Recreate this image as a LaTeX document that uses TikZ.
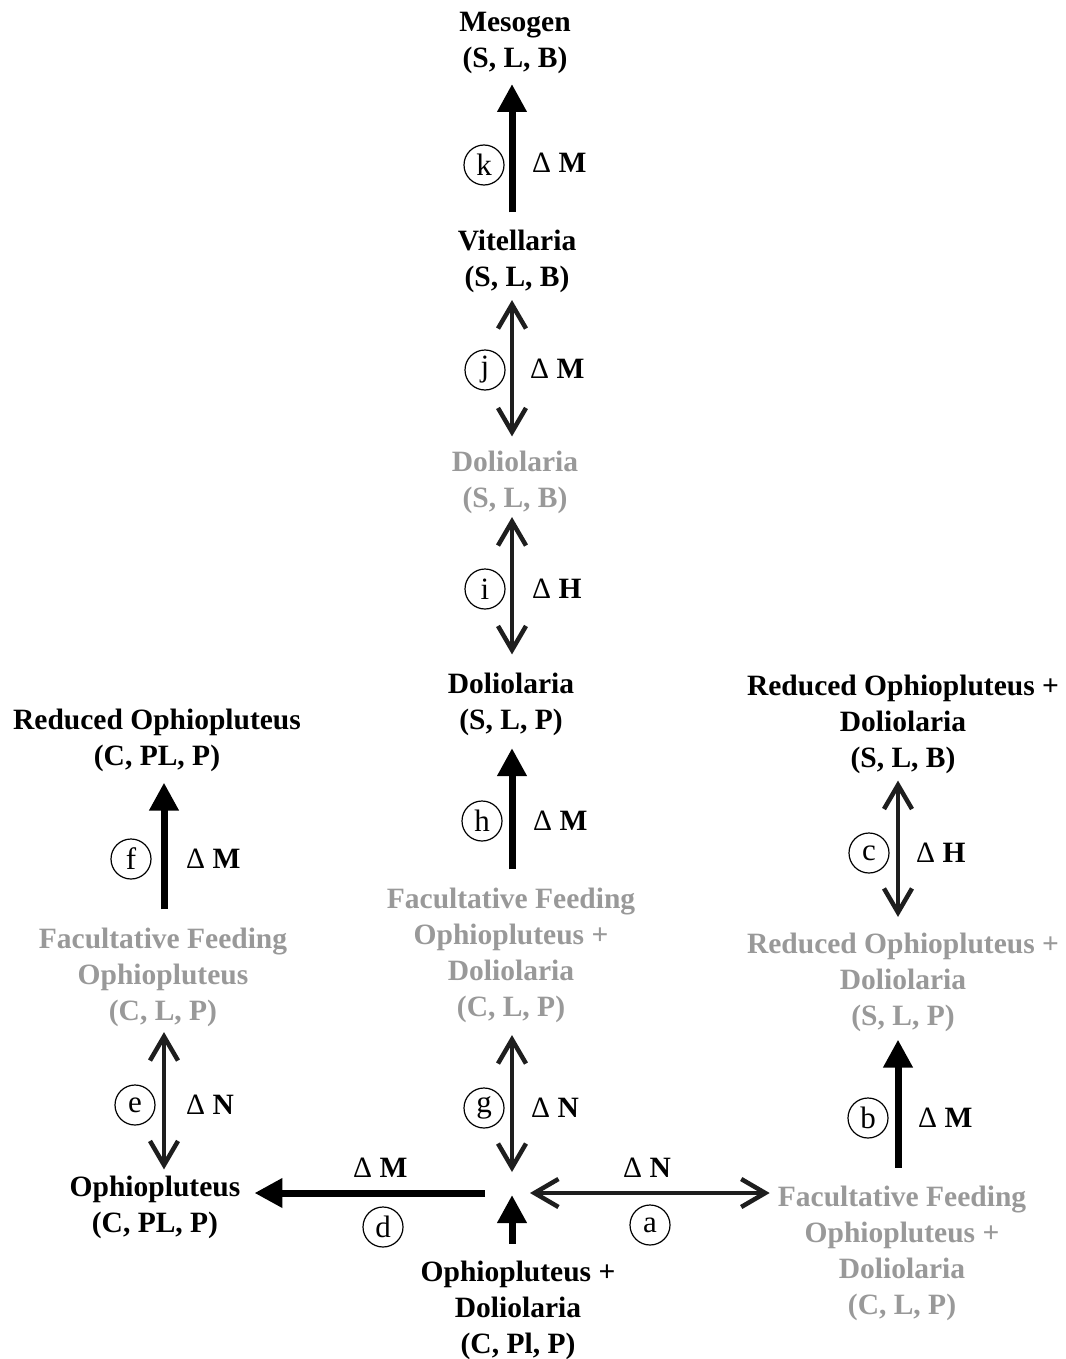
\documentclass[tikz,border=0pt]{standalone}
\usepackage{fontspec}
\setmainfont{Liberation Serif}
\usetikzlibrary{arrows.meta}
\definecolor{fadegray}{RGB}{153,153,153}
\definecolor{arrowdark}{RGB}{30,30,30}
\begin{document}
\begin{tikzpicture}[x=1pt,y=-1pt,
  lbl/.style={font=\fontsize{29.5}{36}\selectfont\bfseries, align=center, inner sep=0pt},
  dim/.style={lbl, text=fadegray},
  tag/.style={circle, draw, line width=1.2pt, minimum size=40pt, inner sep=0pt, font=\fontsize{31}{32}\selectfont},
  dlt/.style={anchor=west, inner sep=0pt, font=\fontsize{29.5}{36}\selectfont},
  oneway/.style={line width=7pt, -{Triangle[length=28pt,width=28pt]}},
  twoway/.style={line width=4.5pt, draw=arrowdark,
    {Straight Barb[length=24pt,width=28pt,line width=4.5pt]}-{Straight Barb[length=24pt,width=28pt,line width=4.5pt]}},
]
\useasboundingbox (0,0) rectangle (1065,1359);

% arrow columns
\coordinate (colL) at (164,0);
\coordinate (colC) at (512,0);
\coordinate (colR) at (898,0);
\coordinate (J) at (512,1193);

% states
\node[lbl] (meso) at (515,43) {Mesogen\\(S, L, B)};
\node[lbl] (vit) at (517,261) {Vitellaria\\(S, L, B)};
\node[dim] (dolg) at (515,482) {Doliolaria\\(S, L, B)};
\node[lbl] (dol) at (511,704) {Doliolaria\\(S, L, P)};
\node[dim] (ffc) at (511,955) {Facultative Feeding\\Ophiopluteus +\\Doliolaria\\(C, L, P)};
\node[lbl] (od) at (518,1310) {Ophiopluteus +\\Doliolaria\\(C, Pl, P)};
\node[lbl] (oph) at (155,1207) {Ophiopluteus\\(C, PL, P)};
\node[dim] (ffl) at (163,977) {Facultative Feeding\\Ophiopluteus\\(C, L, P)};
\node[lbl] (redl) at (157,740.5) {Reduced Ophiopluteus\\(C, PL, P)};
\node[dim] (ffr) at (902,1253.5) {Facultative Feeding\\Ophiopluteus +\\Doliolaria\\(C, L, P)};
\node[dim] (redrg) at (903,982.5) {Reduced Ophiopluteus +\\Doliolaria\\(S, L, P)};
\node[lbl] (redr) at (903,724.5) {Reduced Ophiopluteus +\\Doliolaria\\(S, L, B)};

% centre column
\draw[oneway, shorten <=17pt, shorten >=10pt] (vit.north -| colC) -- (meso.south -| colC);
\draw[twoway, shorten <=7.5pt, shorten >=14pt] (vit.south -| colC) -- (dolg.north -| colC);
\draw[twoway, shorten <=3.5pt, shorten >=18pt] (dolg.south -| colC) -- (dol.north -| colC);
\draw[oneway, shorten <=18pt, shorten >=12.5pt] (ffc.north -| colC) -- (dol.south -| colC);
\draw[twoway, shorten <=12.5pt, shorten >=21pt] (ffc.south -| colC) -- (J);
\draw[oneway, shorten <=16.5pt, shorten >=2pt] (od.north -| colC) -- (J);

% horizontal branches
\draw[oneway, shorten <=27pt, shorten >=14pt] (J) -- (oph.east |- J);
\draw[twoway, shorten <=18pt, shorten >=8pt] (J) -- (ffr.west |- J);

% left column
\draw[oneway, shorten <=18pt, shorten >=10.5pt] (ffl.north -| colL) -- (redl.south -| colL);
\draw[twoway, shorten <=5.5pt, shorten >=6pt] (ffl.south -| colL) -- (oph.north -| colL);

% right column
\draw[oneway, shorten <=18pt, shorten >=7.5pt] (ffr.north -| colR) -- (redrg.south -| colR);
\draw[twoway, shorten <=6.5pt, shorten >=16pt] (redr.south -| colR) -- (redrg.north -| colR);

% step tags
\node[tag] (tk) at (484,165) {k};
\node[tag] (tj) at (485,370) {j};
\node[tag] (ti) at (485,589) {i};
\node[tag] (th) at (482,821) {h};
\node[tag] (tg) at (484,1108) {g};
\node[tag] (tf) at (131,859) {f};
\node[tag] (te) at (135,1105) {e};
\node[tag] (tc) at (869,853) {c};
\node[tag] (tb) at (868,1118) {b};
\node[tag] (td) at (383,1227) {d};
\node[tag] (ta) at (650,1225) {a};

% change labels
\node[dlt] (dk) at (532,163) {Δ \textbf{M}};
\node[dlt] (dj) at (530,369) {Δ \textbf{M}};
\node[dlt] (di) at (532,589) {Δ \textbf{H}};
\node[dlt] (dh) at (533,821) {Δ \textbf{M}};
\node[dlt] (dg) at (531,1108) {Δ \textbf{N}};
\node[dlt] (df) at (186,859) {Δ \textbf{M}};
\node[dlt] (de) at (186,1105) {Δ \textbf{N}};
\node[dlt] (dc) at (916,853) {Δ \textbf{H}};
\node[dlt] (db) at (918,1118) {Δ \textbf{M}};
\node[dlt] (dd) at (353,1168) {Δ \textbf{M}};
\node[dlt] (da) at (623,1168) {Δ \textbf{N}};
\end{tikzpicture}
\end{document}
